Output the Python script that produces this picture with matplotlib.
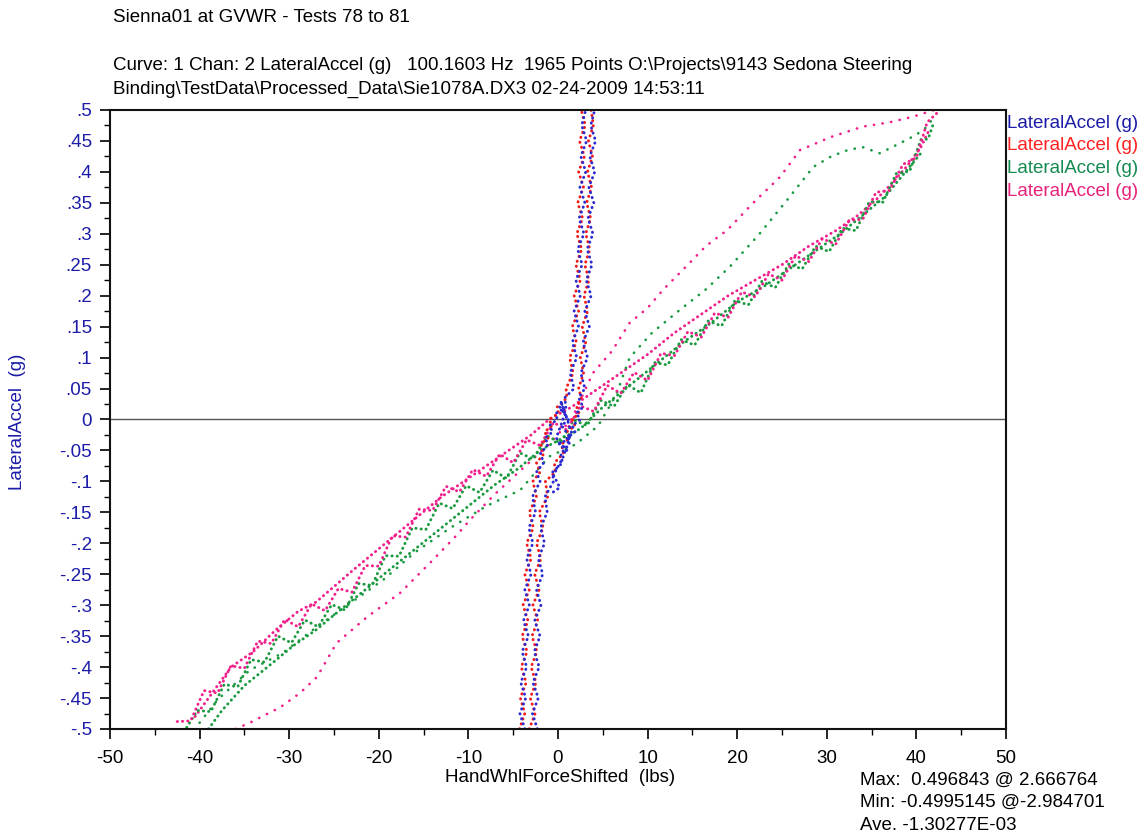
import matplotlib
matplotlib.use("Agg")
import matplotlib.pyplot as plt
from matplotlib.ticker import MultipleLocator, FixedLocator

plt.rcParams['font.family'] = ['Liberation Sans', 'DejaVu Sans']

# steep band: blue / red tests (x = HandWhlForceShifted lbs, y = LateralAccel g)
band_y = [-0.5, -0.475, -0.45, -0.425, -0.4, -0.375, -0.35, -0.325, -0.3, -0.275, -0.25,
          -0.225, -0.2, -0.175, -0.15, -0.125, -0.1, -0.085, -0.07, -0.055, -0.04, -0.03,
          -0.02, -0.01, 0.0, 0.01, 0.02, 0.035, 0.05, 0.075, 0.1, 0.125, 0.15, 0.175, 0.2,
          0.225, 0.25, 0.275, 0.3, 0.325, 0.35, 0.375, 0.4, 0.425, 0.45, 0.475, 0.5]
blue_up_x = [-2.3, -2.85, -2.2, -2.8, -2.1, -2.65, -2.0, -2.6, -1.9, -2.4, -1.7, -2.2, -1.5,
             -1.95, -1.2, -1.45, -0.5, -0.6, 0.5, 0.3, 1.3, 1.0, 1.9, 1.6, 2.5, 2.05, 2.8,
             2.3, 3.0, 2.55, 3.3, 2.8, 3.5, 3.0, 3.7, 3.15, 3.8, 3.25, 3.9, 3.35, 4.0, 3.45,
             4.1, 3.55, 4.2, 3.65, 4.1]
blue_dn_x = [-3.7, -4.25, -3.6, -4.15, -3.5, -4.0, -3.3, -3.85, -3.2, -3.7, -3.0, -3.5, -2.8,
             -3.25, -2.5, -2.85, -2.0, -2.4, -1.6, -1.95, -1.1, -1.45, -0.6, -0.95, -0.1,
             -0.2, 0.9, 0.75, 1.8, 1.35, 2.1, 1.6, 2.3, 1.8, 2.5, 2.0, 2.7, 2.2, 2.9, 2.35,
             3.0, 2.45, 3.1, 2.55, 3.2, 2.65, 3.1]
red_up_x = [-3.2, -2.55, -3.1, -2.45, -3.0, -2.35, -2.9, -2.25, -2.8, -2.1, -2.6, -1.9, -2.4,
            -1.65, -2.1, -1.15, -1.4, -0.3, -0.4, 0.6, 0.4, 1.3, 1.0, 1.9, 1.6, 2.35, 2.1,
            2.6, 2.3, 2.85, 2.5, 3.1, 2.7, 3.3, 2.9, 3.45, 3.0, 3.55, 3.1, 3.65, 3.2, 3.75,
            3.3, 3.85, 3.4, 3.95, 3.7]
red_dn_x = [-4.3, -3.7, -4.2, -3.55, -4.1, -3.45, -4.0, -3.35, -3.9, -3.2, -3.7, -3.0, -3.5,
            -2.75, -3.2, -2.4, -2.8, -2.0, -2.4, -1.55, -1.9, -1.1, -1.5, -0.65, -1.0, 0.05,
            -0.1, 1.0, 0.9, 1.7, 1.3, 2.05, 1.6, 2.3, 1.8, 2.5, 2.0, 2.65, 2.1, 2.75, 2.2,
            2.85, 2.3, 2.95, 2.4, 3.05, 2.6]
blue_blob_x = [0.2, 1.2, 0.4, 1.4, 0.1, 1.0, -0.2, 0.8, 0.3, 1.5, 0.6, -0.5, 0.2, -0.8]
blue_blob_y = [0.02, 0.0, -0.01, -0.03, -0.04, -0.05, -0.03, 0.01, 0.03, -0.02, -0.06,
               -0.09, -0.11, -0.12]

# diagonal band: green / magenta tests
magenta_dense_x = [-42.5, -41, -39.5, -38, -36.5, -35, -33.5, -32, -30.5, -29, -27.5, -26,
                   -24.5, -23, -21.5, -20, -18.5, -17, -15.5, -14, -12.5, -11, -9.5, -8,
                   -6.5, -5, -3.5, -2, -0.5, 1, 2.5, 4, 5.5, 7, 8.5, 10, 11.5, 13, 14.5, 16,
                   17.5, 19, 20.5, 22, 23.5, 25, 26.5, 28, 29.5, 31, 32.5, 34, 35.5, 37,
                   38.5, 40, 41.2, 42.3]
magenta_dense_y = [-0.488, -0.487, -0.438, -0.442, -0.398, -0.402, -0.358, -0.362, -0.323,
                   -0.335, -0.298, -0.309, -0.273, -0.279, -0.236, -0.237, -0.188, -0.19,
                   -0.145, -0.147, -0.108, -0.117, -0.081, -0.092, -0.056, -0.07, -0.033,
                   -0.042, -0.005, -0.017, 0.022, 0.013, 0.055, 0.042, 0.076, 0.063, 0.107,
                   0.103, 0.142, 0.133, 0.172, 0.165, 0.206, 0.198, 0.235, 0.225, 0.264,
                   0.255, 0.292, 0.283, 0.322, 0.323, 0.367, 0.37, 0.412, 0.423, 0.48, 0.495]
magenta_outer_x = [-36, -34.4, -31, -28.8, -26.9, -24.7, -21.3, -17.6, -14.3, -11.5, -9.8, -7,
                   -4, -1, 1.5, 3.9, 6, 8, 10, 11.7, 14.7, 16.5, 18.9, 21.8, 24.8, 27, 30.4,
                   34, 37, 39.6, 42]
magenta_outer_y = [-0.5, -0.49, -0.465, -0.442, -0.416, -0.361, -0.319, -0.28, -0.232, -0.19,
                   -0.162, -0.12, -0.08, -0.04, 0.0, 0.075, 0.11, 0.156, 0.18, 0.209, 0.253,
                   0.28, 0.306, 0.35, 0.392, 0.435, 0.456, 0.473, 0.48, 0.489, 0.5]
magenta_inner_x = [-40.5, -38.5, -36.5, -34, -31.5, -29, -27, -25, -23, -20.5, -18, -15.5, -13,
                   -10.5, -8, -5.5, -3, -1, 1.5, 4, 7, 10, 13, 16, 19, 22, 25, 28, 31, 33.5,
                   35.5, 37.5, 39, 40.5, 41.5]
magenta_inner_y = [-0.48, -0.44, -0.4, -0.375, -0.34, -0.31, -0.295, -0.27, -0.245, -0.215,
                   -0.185, -0.155, -0.125, -0.1, -0.075, -0.05, -0.025, 0.0, 0.02, 0.045,
                   0.075, 0.105, 0.14, 0.17, 0.2, 0.225, 0.25, 0.28, 0.305, 0.33, 0.355,
                   0.385, 0.41, 0.44, 0.47]

green_dense_x = [-41.75, -40.25, -38.75, -37.25, -35.75, -34.25, -32.75, -31.25, -29.75,
                 -28.25, -26.75, -25.25, -23.75, -22.25, -20.75, -19.25, -17.75, -16.25,
                 -14.75, -13.25, -11.75, -10.25, -8.75, -7.25, -5.75, -4.25, -2.75, -1.25,
                 0.25, 1.75, 3.25, 4.75, 6.25, 7.75, 9.25, 10.75, 12.25, 13.75, 15.25, 16.75,
                 18.25, 19.75, 21.25, 22.75, 24.25, 25.75, 27.25, 28.75, 30.25, 31.75, 33.25,
                 34.75, 36.25, 37.75, 39.25, 40.5, 41.3, 41.9]
green_dense_y = [-0.505, -0.47, -0.472, -0.428, -0.432, -0.388, -0.392, -0.35, -0.361, -0.324,
                 -0.335, -0.299, -0.308, -0.265, -0.268, -0.22, -0.221, -0.175, -0.178,
                 -0.135, -0.144, -0.107, -0.118, -0.082, -0.095, -0.054, -0.064, -0.026,
                 -0.038, -0.001, -0.01, 0.031, 0.021, 0.056, 0.043, 0.092, 0.088, 0.129,
                 0.12, 0.159, 0.151, 0.192, 0.185, 0.223, 0.213, 0.251, 0.243, 0.28, 0.271,
                 0.309, 0.305, 0.352, 0.351, 0.397, 0.401, 0.452, 0.453, 0.478]
green_mid_x = [-40, -38, -34.4, -30.7, -26.9, -23.2, -19.5, -16, -12, -8, -4.2, -1, 2, 4.5,
               6.5, 8, 10.5, 13.6, 16.5, 19.2, 22.5, 25.6, 28.5, 30.5, 32.3, 34, 35.9, 38, 40,
               41.2, 42]
green_mid_y = [-0.49, -0.453, -0.405, -0.377, -0.335, -0.297, -0.259, -0.215, -0.175, -0.14,
               -0.114, -0.06, -0.04, -0.01, 0.04, 0.1, 0.14, 0.177, 0.21, 0.247, 0.3, 0.355,
               0.408, 0.425, 0.435, 0.44, 0.43, 0.445, 0.46, 0.473, 0.49]
green_inner_x = [-39, -37.5, -35, -32, -29.5, -27, -24.5, -21.5, -19, -16, -13, -10, -7, -4.5,
                 -2, 0.5, 2.5, 5, 8, 11, 14, 17, 20, 23, 26, 29, 31.5, 34, 36.5, 38.5, 40.5]
green_inner_y = [-0.5, -0.47, -0.43, -0.395, -0.365, -0.34, -0.31, -0.275, -0.245, -0.21,
                 -0.175, -0.14, -0.105, -0.08, -0.05, -0.03, -0.015, 0.02, 0.055, 0.09,
                 0.125, 0.155, 0.19, 0.215, 0.245, 0.275, 0.3, 0.33, 0.36, 0.395, 0.43]

legend_labels = ["LateralAccel (g)"] * 4
legend_colors = ["#1c1ca8", "#ff2020", "#148a50", "#e8207a"]

x_ticks = [-50, -40, -30, -20, -10, 0, 10, 20, 30, 40, 50]
y_ticks = [-0.5, -0.45, -0.4, -0.35, -0.3, -0.25, -0.2, -0.15, -0.1, -0.05, 0.0,
           0.05, 0.1, 0.15, 0.2, 0.25, 0.3, 0.35, 0.4, 0.45, 0.5]

BLUE = "#2a2ad0"
RED = "#f01818"
GREEN = "#1a9a40"
MAGENTA = "#f0208c"

dense = dict(linestyle=(0, (0.1, 1.7)), linewidth=2.1, dash_capstyle='round')
sparse = dict(linestyle=(0, (0.1, 3.2)), linewidth=1.9, dash_capstyle='round')


def ylab(v):
    s = f"{v:.2f}".rstrip('0').rstrip('.')
    if s.startswith('0.'):
        s = s[1:]
    elif s.startswith('-0.'):
        s = '-' + s[2:]
    return s


fig = plt.figure(figsize=(11.42, 8.38), dpi=100)
ax = fig.add_axes([0.0963, 0.1301, 0.7846, 0.7387])

ax.plot(green_inner_x, green_inner_y, color=GREEN, **dense)
ax.plot(magenta_inner_x, magenta_inner_y, color=MAGENTA, **dense)
ax.plot(green_mid_x, green_mid_y, color=GREEN, **sparse)
ax.plot(magenta_outer_x, magenta_outer_y, color=MAGENTA, **sparse)
ax.plot(green_dense_x, green_dense_y, color=GREEN, **dense)
ax.plot(magenta_dense_x, magenta_dense_y, color=MAGENTA, **dense)

ax.plot(red_up_x, band_y, color=RED, **dense)
ax.plot(red_dn_x, band_y, color=RED, **dense)
ax.plot(blue_up_x, band_y, color=BLUE, **dense)
ax.plot(blue_dn_x, band_y, color=BLUE, **dense)
ax.plot(blue_blob_x, blue_blob_y, color=BLUE, **dense)

ax.axhline(0, color="#555555", linewidth=1.0, zorder=1)

ax.set_xlim(-50, 50)
ax.set_ylim(-0.5, 0.5)
ax.xaxis.set_major_locator(FixedLocator(x_ticks))
ax.xaxis.set_minor_locator(MultipleLocator(5))
ax.yaxis.set_major_locator(FixedLocator(y_ticks))
ax.yaxis.set_minor_locator(MultipleLocator(0.025))
ax.set_xticklabels([str(t) for t in x_ticks])
ax.set_yticklabels([ylab(t) for t in y_ticks])
ax.tick_params(axis='both', which='major', direction='out', length=7, width=1.2,
               labelsize=13.5)
ax.tick_params(axis='both', which='minor', direction='out', length=4, width=1.0)
ax.tick_params(axis='y', labelcolor="#1c1ca8", pad=6)
ax.tick_params(axis='x', pad=8)
for sp in ax.spines.values():
    sp.set_linewidth(1.5)
    sp.set_color("#111111")

W, H = 1142, 838


def ftext(x, y, s, **kw):
    fig.text(x / W, 1 - y / H, s, va='center', fontsize=13.5, **kw)


ftext(113, 18, "Sienna01 at GVWR - Tests 78 to 81")
ftext(113, 66, "Curve: 1 Chan: 2 LateralAccel (g)   100.1603 Hz  1965 Points "
      "O:\\Projects\\9143 Sedona Steering")
ftext(113, 89, "Binding\\TestData\\Processed_Data\\Sie1078A.DX3 02-24-2009 14:53:11")

for i, (lab, col) in enumerate(zip(legend_labels, legend_colors)):
    ftext(1007, 123 + i * 22.7, lab, color=col)

ftext(560, 777, "HandWhlForceShifted  (lbs)", ha='center')
ftext(860, 780, "Max:  0.496843 @ 2.666764")
ftext(860, 802, "Min: -0.4995145 @-2.984701")
ftext(860, 825, "Ave. -1.30277E-03")
ftext(18, 422, "LateralAccel  (g)", ha='center', rotation=90, color="#1c1ca8")

fig.savefig("out.png", dpi=100)
